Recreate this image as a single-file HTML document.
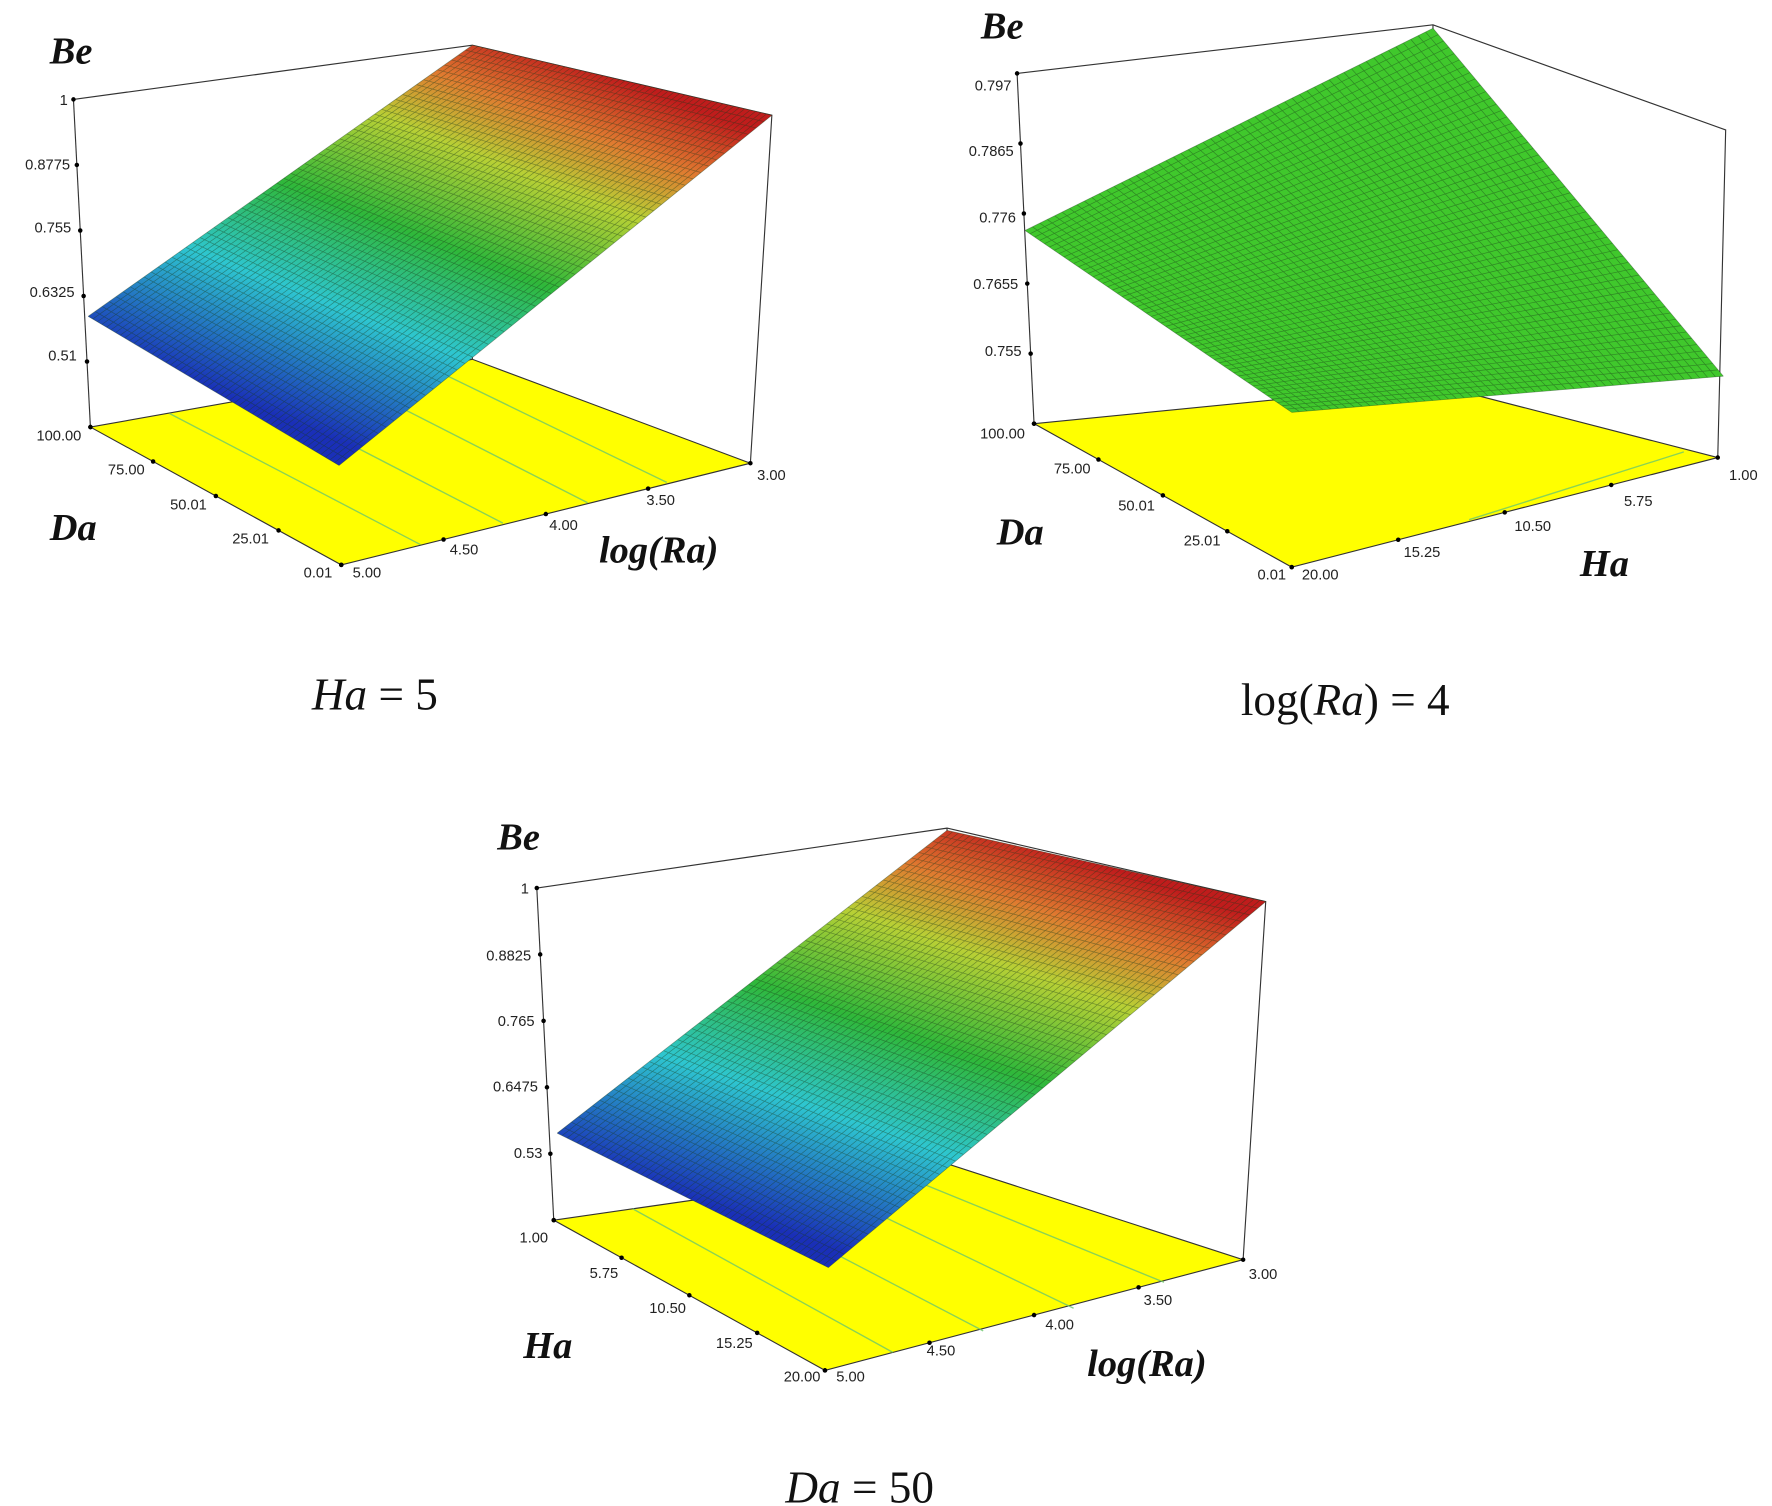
<!DOCTYPE html>
<html><head><meta charset="utf-8"><style>
html,body{margin:0;padding:0;background:#fff;}
svg{display:block;}
.t{font-family:"Liberation Sans",sans-serif;font-size:13px;fill:#222;}
.ax{font-family:"Liberation Serif",serif;font-style:italic;font-weight:bold;font-size:34px;fill:#111;}
.cap{font-family:"Liberation Serif",serif;font-size:40px;fill:#111;}
</style></head><body>
<svg id="s" width="1772" height="1506" viewBox="0 0 1568 1333" preserveAspectRatio="none" xmlns="http://www.w3.org/2000/svg">
<defs>
<linearGradient id="g1" gradientUnits="userSpaceOnUse" x1="189" y1="346" x2="333" y2="-16">
<stop offset="0" stop-color="#1a2fb8"/><stop offset="0.28" stop-color="#2ec6d0"/><stop offset="0.5" stop-color="#2fb83a"/><stop offset="0.72" stop-color="#b8d035"/><stop offset="0.86" stop-color="#e07a30"/><stop offset="1" stop-color="#c01c1c"/></linearGradient>
<linearGradient id="g3" gradientUnits="userSpaceOnUse" x1="613" y1="1062" x2="745" y2="685">
<stop offset="0" stop-color="#1a2fb8"/><stop offset="0.28" stop-color="#2ec6d0"/><stop offset="0.5" stop-color="#2fb83a"/><stop offset="0.72" stop-color="#b8d035"/><stop offset="0.86" stop-color="#e07a30"/><stop offset="1" stop-color="#c01c1c"/></linearGradient>
</defs>
<g stroke="#333" stroke-width="1" fill="none">
<polyline points="65,88 418,40 683,102 664,410"/><line x1="65" y1="88" x2="80" y2="378"/><line x1="418" y1="40" x2="418" y2="318"/>
<polyline points="900,65 1268,22 1527,115 1520,405"/><line x1="900" y1="65" x2="915" y2="375"/><line x1="1268" y1="22" x2="1268" y2="340"/>
<polyline points="475,786 838,733 1120,798 1100,1115"/><line x1="475" y1="786" x2="490" y2="1080"/><line x1="838" y1="733" x2="838" y2="1030"/>
</g>
<polygon points="80,378 418,318 664,410 302,500" fill="#ffff00" stroke="#333" stroke-width="1"/>
<polygon points="915,375 1268,340 1520,405 1143,502" fill="#ffff00" stroke="#333" stroke-width="1"/>
<polygon points="490,1080 838,1030 1100,1115 730,1213" fill="#ffff00" stroke="#333" stroke-width="1"/>
<g stroke="#6cc86c" stroke-width="1.2" fill="none" opacity="0.8">
<line x1="150" y1="366" x2="372" y2="482"/><line x1="230" y1="352" x2="445" y2="463"/><line x1="310" y1="338" x2="520" y2="445"/><line x1="380" y1="325" x2="590" y2="427"/>
<line x1="560" y1="1070" x2="790" y2="1197"/><line x1="640" y1="1058" x2="870" y2="1178"/><line x1="720" y1="1047" x2="950" y2="1158"/><line x1="790" y1="1037" x2="1030" y2="1135"/>
<line x1="1300" y1="460" x2="1490" y2="400"/>
</g>
<polygon points="78,280 418,40 683,102 300,412" fill="url(#g1)"/>
<polygon points="907,204 1268,25 1525,333 1143,365" fill="#40c82c"/>
<polygon points="493,1003 838,735 1120,798 733,1122" fill="url(#g3)"/>
<g id="mesh" stroke="#1a3a1a" stroke-width="0.6" fill="none" opacity="0.45"></g>
<g id="dots" fill="#000"></g>
<text class="ax" x="44" y="56">Be</text>
<g class="t" text-anchor="end">
<text x="60" y="93">1</text><text x="62" y="150">0.8775</text><text x="63" y="206">0.755</text><text x="66" y="263">0.6325</text><text x="68" y="319">0.51</text>
<text x="72" y="390">100.00</text><text x="128" y="420">75.00</text><text x="183" y="451">50.01</text><text x="238" y="481">25.01</text><text x="294" y="511">0.01</text>
<text x="895" y="80">0.797</text><text x="897" y="138">0.7865</text><text x="899" y="197">0.776</text><text x="901" y="256">0.7655</text><text x="904" y="315">0.755</text>
<text x="907" y="388">100.00</text><text x="965" y="419">75.00</text><text x="1022" y="452">50.01</text><text x="1080" y="483">25.01</text><text x="1138" y="513">0.01</text>
<text x="468" y="791">1</text><text x="470" y="850">0.8825</text><text x="473" y="908">0.765</text><text x="476" y="966">0.6475</text><text x="480" y="1025">0.53</text>
<text x="485" y="1100">1.00</text><text x="547" y="1131">5.75</text><text x="607" y="1162">10.50</text><text x="666" y="1193">15.25</text><text x="726" y="1223">20.00</text>
</g>
<g class="t">
<text x="312" y="511">5.00</text><text x="398" y="491">4.50</text><text x="486" y="469">4.00</text><text x="572" y="447">3.50</text><text x="670" y="425">3.00</text>
<text x="1152" y="513">20.00</text><text x="1242" y="493">15.25</text><text x="1340" y="470">10.50</text><text x="1437" y="448">5.75</text><text x="1530" y="425">1.00</text>
<text x="740" y="1223">5.00</text><text x="820" y="1200">4.50</text><text x="925" y="1177">4.00</text><text x="1012" y="1155">3.50</text><text x="1105" y="1132">3.00</text>
</g>
<text class="ax" x="44" y="478">Da</text>
<text class="ax" x="530" y="498">log(Ra)</text>
<text class="ax" x="868" y="34">Be</text>
<text class="ax" x="882" y="482">Da</text>
<text class="ax" x="1398" y="510">Ha</text>
<text class="ax" x="440" y="752">Be</text>
<text class="ax" x="463" y="1202">Ha</text>
<text class="ax" x="962" y="1218">log(Ra)</text>
<text class="cap" x="276" y="628"><tspan font-style="italic">Ha</tspan> = 5</text>
<text class="cap" x="1098" y="633">log(<tspan font-style="italic">Ra</tspan>) = 4</text>
<text class="cap" x="695" y="1330"><tspan font-style="italic">Da</tspan> = 50</text>
</svg>
<script>
(function(){
var NS="http://www.w3.org/2000/svg";
var mesh=document.getElementById("mesh"),dots=document.getElementById("dots");
function L(a,b,c,d){var l=document.createElementNS(NS,"line");l.setAttribute("x1",a);l.setAttribute("y1",b);l.setAttribute("x2",c);l.setAttribute("y2",d);mesh.appendChild(l);}
function grid(p,n){
 function lerp(a,b,t){return [a[0]+(b[0]-a[0])*t,a[1]+(b[1]-a[1])*t];}
 for(var i=0;i<=n;i++){var t=i/n;
  var a=lerp(p[0],p[1],t),b=lerp(p[3],p[2],t);L(a[0],a[1],b[0],b[1]);
  var c=lerp(p[0],p[3],t),d=lerp(p[1],p[2],t);L(c[0],c[1],d[0],d[1]);}
}
grid([[78,280],[418,40],[683,102],[300,412]],55);
grid([[907,204],[1268,25],[1525,333],[1143,365]],55);
grid([[493,1003],[838,735],[1120,798],[733,1122]],55);
function D(x,y){var c=document.createElementNS(NS,"circle");c.setAttribute("cx",x);c.setAttribute("cy",y);c.setAttribute("r",2);dots.appendChild(c);}
function ax(x1,y1,x2,y2,n){for(var i=0;i<=n;i++){var t=i/n;D(x1+(x2-x1)*t,y1+(y2-y1)*t);}}
ax(65,88,80,378,5);ax(80,378,302,500,4);ax(302,500,664,410,4);
ax(900,65,915,375,5);ax(915,375,1143,502,4);ax(1143,502,1520,405,4);
ax(475,786,490,1080,5);ax(490,1080,730,1213,4);ax(730,1213,1100,1115,4);
})();
</script>
</body></html>
